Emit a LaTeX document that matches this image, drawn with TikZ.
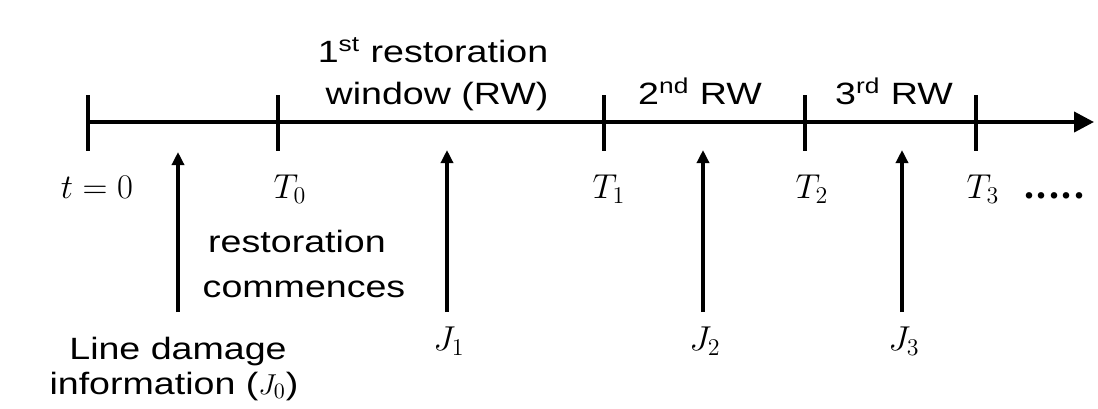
\documentclass[tikz,border=0pt]{standalone}
\usepackage{fontspec}
\setmainfont[FakeStretch=1.22]{Liberation Sans}
\newfontfamily\dotfont{Liberation Serif}
\usepackage{tikz}
\usetikzlibrary{arrows.meta,positioning}

\begin{document}
\begin{tikzpicture}[x=0.5pt, y=-0.5pt,
  lbl/.style={font=\fontsize{15.4}{18}\selectfont, anchor=base, inner sep=0pt},
  sym/.style={font=\fontsize{18.5}{21}\selectfont, anchor=base, inner sep=0pt},
  tickmark/.style={line width=2pt},
  event/.style={line width=2pt, -{Triangle[length=6.5pt, width=6pt]}}]
  \useasboundingbox (0,0) rectangle (1098,408);

  % Time axis
  \coordinate (origin) at (88,122);
  \coordinate (axisend) at (1094,122);
  \draw[line width=2pt, -{Triangle[length=10pt, width=10pt]}] (origin) -- (axisend);

  % Ticks with time labels
  \foreach \x/\lx/\name/\lab in {88/97/tz/{t=0}, 278/290/tA/{T_0}, 604/609/tB/{T_1},
                                 805/812/tC/{T_2}, 976/983/tD/{T_3}}{
    \draw[tickmark] (\x,95) -- (\x,151);
    \node[sym] (\name) at (\lx,198) {$\lab$};
  }
  \node[sym, anchor=base west] (dots) at ([xshift=12pt]tD.base east)
    {\dotfont\fontsize{20}{22}\selectfont\bfseries .\kern1.3pt.\kern1.3pt.\kern1.3pt.\kern1.3pt.};

  % Restoration windows
  \node[lbl] (rwA) at (433,62) {1\textsuperscript{st} restoration};
  \node[lbl] (rwB) at (437,104) {window (RW)};
  \node[lbl] (rwC) at (700,104) {2\textsuperscript{nd} RW};
  \node[lbl] (rwD) at (894,104) {3\textsuperscript{rd} RW};
  \node[lbl] (startA) at (297,252) {restoration};
  \node[lbl] (startB) at (304,297) {commences};

  % Information arrivals
  \coordinate (j0) at (178,312);
  \coordinate (jt0) at (178,152);
  \draw[event] (j0) -- (jt0);
  \node[lbl] (infoA) at (178,359) {Line damage};
  \node[lbl] (infoB) at (174,394) {information ($J_0$)};
  \foreach \x/\n in {447/1, 703/2, 902/3}{
    \coordinate (j\n) at (\x,312);
    \coordinate (jt\n) at (\x,150);
    \draw[event] (j\n) -- (jt\n);
    \node[sym] (J\n) at (\x+2,350) {$J_\n$};
  }
\end{tikzpicture}
\end{document}
